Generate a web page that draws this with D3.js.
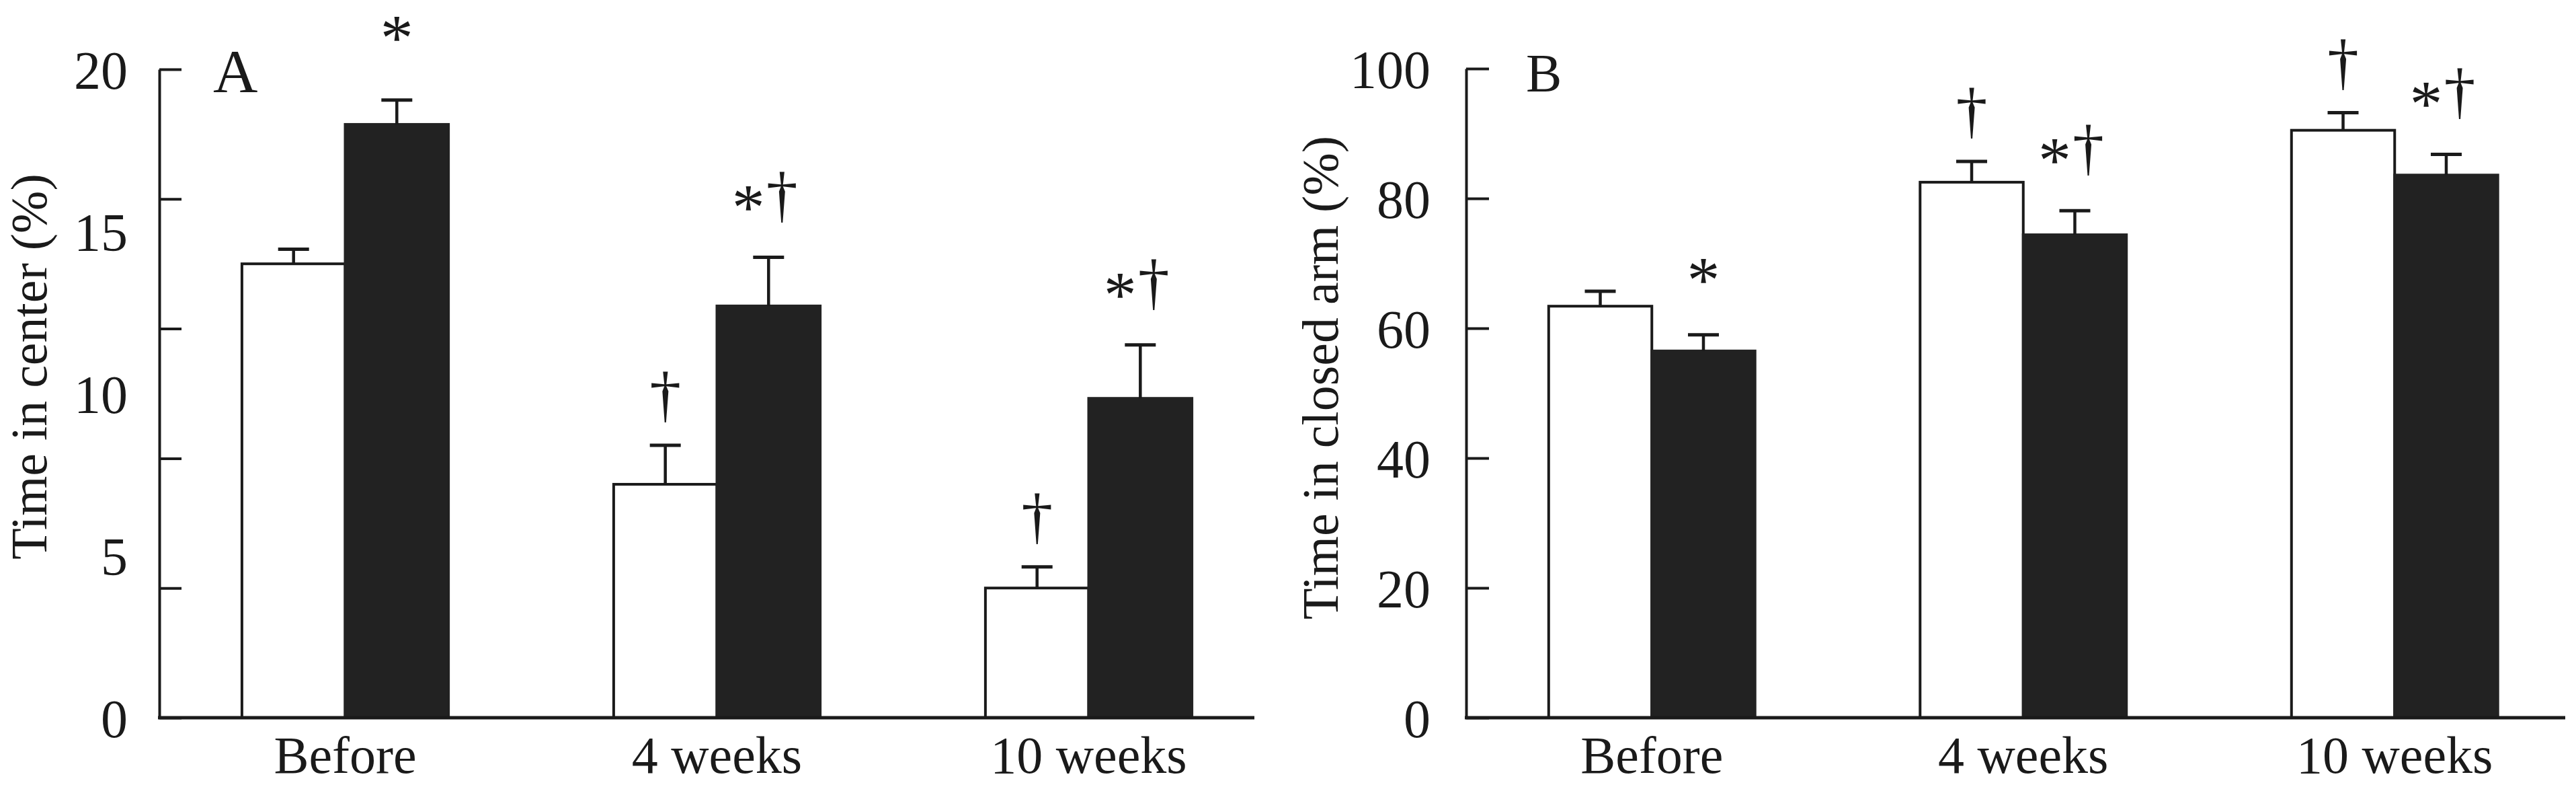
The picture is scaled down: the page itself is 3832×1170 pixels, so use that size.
<!DOCTYPE html>
<html>
<head>
<meta charset="utf-8">
<script src="https://cdn.jsdelivr.net/npm/d3@7"></script>
<style>
  body { margin: 0; background: #fff; }
  svg { display: block; }
  text { font-family: "Liberation Serif", "Times New Roman", serif; fill: #1a1a1a; }
</style>
</head>
<body>
<svg id="chart" width="3832" height="1170"></svg>
<script>
// ---------- data ----------
const groups = ["Before", "4 weeks", "10 weeks"];
const series = ["open", "filled"];

// panel A : time in center (%)
const centerOpen = [14.0, 7.2, 4.0];
const centerOpenSE = [0.45, 1.2, 0.65];
const centerFilled = [18.3, 12.7, 9.85];
const centerFilledSE = [0.75, 1.5, 1.65];
const centerOpenSig = ["", "†", "†"];
const centerFilledSig = ["*", "*†", "*†"];
const centerTickMarks = [0, 4, 8, 12, 16, 20];
const centerTickLabels = [0, 5, 10, 15, 20];

// panel B : time in closed arm (%)
const closedOpen = [63.4, 82.5, 90.5];
const closedOpenSE = [2.3, 3.2, 2.7];
const closedFilled = [56.5, 74.4, 83.6];
const closedFilledSE = [2.5, 3.7, 3.2];
const closedOpenSig = ["", "†", "†"];
const closedFilledSig = ["*", "*†", "*†"];
const closedTicks = [0, 20, 40, 60, 80, 100];

const svg = d3.select("#chart");
svg.append("rect").attr("width", 3832).attr("height", 1170).attr("fill", "#fff");

const ink = "#1a1a1a";
const barInk = "#222";

function rows(open, openSE, openSig, filled, filledSE, filledSig) {
    const out = [];
    groups.forEach((g, i) => {
        out.push({group: g, key: "open", value: open[i], se: openSE[i], sig: openSig[i]});
        out.push({group: g, key: "filled", value: filled[i], se: filledSE[i], sig: filledSig[i]});
    });
    return out;
}

function drawPanel(p) {
    const g = svg.append("g");
    const y = d3.scaleLinear().domain(p.domain).range([p.bottom, p.top]);
    const x0 = d3.scaleBand().domain(groups).range([p.left, p.left + 3 * p.step]).padding(0);
    const x1 = d3.scaleBand().domain(series).range([0, x0.bandwidth()])
        .paddingInner(0).paddingOuter(0.8);

    // bars
    g.selectAll("rect.bar").data(p.data).join("rect")
        .attr("class", "bar")
        .attr("x", d => x0(d.group) + x1(d.key))
        .attr("y", d => y(d.value))
        .attr("width", x1.bandwidth())
        .attr("height", d => y(0) - y(d.value))
        .attr("fill", d => d.key === "open" ? "#fff" : barInk)
        .attr("stroke", d => d.key === "open" ? ink : barInk)
        .attr("stroke-width", 4);

    // error bars (upper only)
    const cx = d => x0(d.group) + x1(d.key) + x1.bandwidth() / 2;
    g.selectAll("line.err").data(p.data).join("line")
        .attr("class", "err")
        .attr("x1", cx).attr("x2", cx)
        .attr("y1", d => y(d.value)).attr("y2", d => y(d.value + d.se))
        .attr("stroke", ink).attr("stroke-width", 4.5);
    g.selectAll("line.cap").data(p.data).join("line")
        .attr("class", "cap")
        .attr("x1", d => cx(d) - 23).attr("x2", d => cx(d) + 23)
        .attr("y1", d => y(d.value + d.se)).attr("y2", d => y(d.value + d.se))
        .attr("stroke", ink).attr("stroke-width", 5);

    // significance marks
    const lift = s => s === "†" ? 70 : (s === "*" ? p.starLift : 88);
    p.data.filter(d => d.sig).forEach(d => {
        const cy = y(d.value + d.se) - lift(d.sig);
        const hasStar = d.sig.includes("*"), hasDagger = d.sig.includes("†");
        const both = hasStar && hasDagger;
        if (hasStar) {
            g.append("text").attr("text-anchor", "middle")
                .attr("x", cx(d) + (both ? -30 : 0)).attr("y", cy + 46)
                .attr("font-size", 98).text("*");
        }
        if (hasDagger) {
            g.append("text").attr("text-anchor", "middle")
                .attr("x", cx(d) + (both ? 20 : 0)).attr("y", cy + 25)
                .attr("font-size", 94).text("†");
        }
    });

    // y axis: tick marks pointing inward
    const yMarks = g.append("g").attr("transform", `translate(${p.left},0)`)
        .call(d3.axisLeft(y).tickValues(p.tickMarks).tickSize(-p.tickLen).tickSizeOuter(0).tickFormat(""));
    yMarks.select(".domain").attr("stroke", ink).attr("stroke-width", 4);
    yMarks.selectAll(".tick line").attr("stroke", ink).attr("stroke-width", 4);

    const yLabels = g.append("g").attr("transform", `translate(${p.left},0)`)
        .call(d3.axisLeft(y).tickValues(p.tickLabels).tickSize(0).tickPadding(p.labelPad));
    yLabels.select(".domain").remove();
    yLabels.selectAll(".tick text").attr("font-size", 80).attr("font-family", null)
        .attr("fill", ink).attr("dy", "0.36em");

    // x axis
    g.append("line")
        .attr("x1", p.left - 2).attr("x2", p.right)
        .attr("y1", y(0)).attr("y2", y(0))
        .attr("stroke", ink).attr("stroke-width", 5);
    const xLabels = g.append("g").attr("transform", `translate(0,${y(0)})`)
        .call(d3.axisBottom(x0).tickSize(0).tickPadding(27));
    xLabels.select(".domain").remove();
    xLabels.selectAll(".tick text").attr("font-size", 78).attr("font-family", null)
        .attr("fill", ink).attr("dy", "0.71em");

    // axis title
    g.append("text")
        .attr("transform", `translate(${p.titleX},${(p.top + p.bottom) / 2 + p.titleShift}) rotate(-90)`)
        .attr("text-anchor", "middle").attr("font-size", 76)
        .text(p.title);

    // panel letter
    g.append("text").attr("x", p.left + p.letterDx).attr("y", p.top + 34)
        .attr("font-size", p.letterSize).text(p.letter);
}

drawPanel({
    data: rows(centerOpen, centerOpenSE, centerOpenSig, centerFilled, centerFilledSE, centerFilledSig),
    domain: [0, 20], top: 103, bottom: 1067, left: 237, right: 1866, step: 553,
    tickMarks: centerTickMarks, tickLabels: centerTickLabels, tickLen: 33, labelPad: 47,
    title: "Time in center (%)", titleX: 69, titleShift: -40,
    letter: "A", letterDx: 80, letterSize: 92, starLift: 106
});

drawPanel({
    data: rows(closedOpen, closedOpenSE, closedOpenSig, closedFilled, closedFilledSE, closedFilledSig),
    domain: [0, 100], top: 102, bottom: 1067, left: 2181, right: 3816, step: 552.5,
    tickMarks: closedTicks, tickLabels: closedTicks, tickLen: 34, labelPad: 53,
    title: "Time in closed arm (%)", titleX: 1990, titleShift: -23,
    letter: "B", letterDx: 89, letterSize: 80, starLift: 95
});
</script>
</body>
</html>
